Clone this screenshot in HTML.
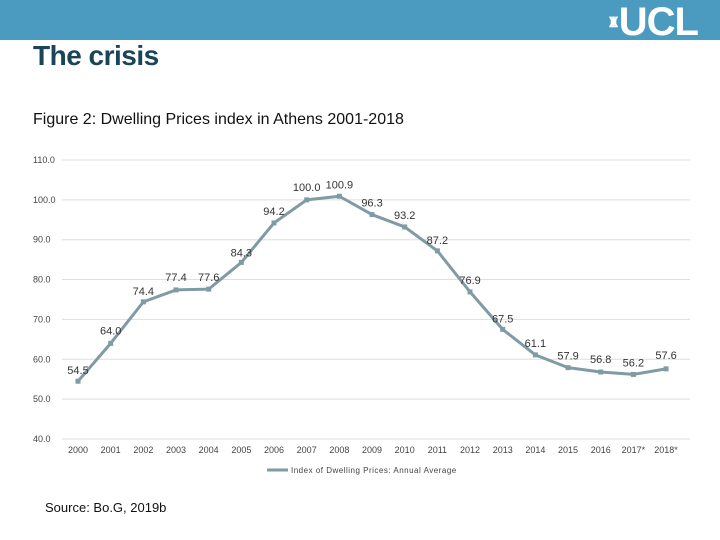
<!DOCTYPE html>
<html><head><meta charset="utf-8"><style>
body{margin:0;width:720px;height:540px;background:#fff;font-family:"Liberation Sans",sans-serif;overflow:hidden;position:relative}
#hdr{position:absolute;left:0;top:0;width:720px;height:40px;background:#4a9bbf}
#logo{position:absolute;right:22px;top:2px;color:#fff;font-weight:bold;font-size:40px;letter-spacing:-1px;line-height:40px}
#title{position:absolute;left:33px;top:40px;font-size:28px;color:#1a4458;font-weight:bold;letter-spacing:-0.5px}
#cap{position:absolute;left:33px;top:111px;font-size:16px;color:#111}
#src{position:absolute;left:45px;top:500px;font-size:13px;color:#111}
svg{position:absolute;left:0;top:0}
</style></head><body>
<div id="hdr"></div>
<div id="logo"><span style="font-size:14px;vertical-align:top">♜</span>UCL</div>
<div id="title">The crisis</div>
<div id="cap">Figure 2: Dwelling Prices index in Athens 2001-2018</div>
<div id="src">Source: Bo.G, 2019b</div>
<svg id="chart" width="720" height="540"></svg>
<script>
const categories=["2000","2001","2002","2003","2004","2005","2006","2007","2008","2009","2010","2011","2012","2013","2014","2015","2016","2017*","2018*"];
const values=[54.5,64.0,74.4,77.4,77.6,84.3,94.2,100.0,100.9,96.3,93.2,87.2,76.9,67.5,61.1,57.9,56.8,56.2,57.6];
const yTicks=[40,50,60,70,80,90,100,110];
const labelDy=[-11,-13,-11,-13,-12,-10,-12,-13,-12,-12,-12,-11,-12,-11,-12,-12,-13,-12,-14];
const NS="http://www.w3.org/2000/svg",svg=document.getElementById('chart');
const x=i=>78+i*32.67, y=v=>439-(v-40)*3.986;
function mk(t,a){const e=document.createElementNS(NS,t);for(const k in a)e.setAttribute(k,a[k]);svg.appendChild(e);return e;}
yTicks.forEach(t=>{
 const g=mk('line',{x1:62,x2:690,y1:y(t),y2:y(t),stroke:'#dedede','stroke-width':1});
 
 
 const l=mk('text',{x:33,y:y(t)+3,'font-size':9,fill:'#444'});l.textContent=t.toFixed(1);
 
 
});
categories.forEach((c,i)=>{
 const l=mk('text',{x:x(i),y:453,'font-size':9,fill:'#444','text-anchor':'middle'});l.textContent=c;
 
 
});
const pl=mk('polyline',{points:values.map((v,i)=>x(i)+','+y(v)).join(' '),fill:'none',stroke:'#7f9ba3','stroke-width':3,'stroke-linejoin':'round'});


values.forEach((v,i)=>{
 const m=mk('rect',{x:x(i)-2.5,y:y(v)-2.5,width:5,height:5,fill:'#7f9ba3'});
 
 
 const t=mk('text',{x:x(i),y:y(v)+labelDy[i]+4,'font-size':11,fill:'#333','text-anchor':'middle'});t.textContent=v.toFixed(1);
 
 
});
const ll=mk('line',{x1:267,x2:288,y1:470,y2:470,stroke:'#7f9ba3','stroke-width':3});


const lt=mk('text',{x:291,y:473,'font-size':8,fill:'#444','letter-spacing':'0.5'});lt.textContent='Index of Dwelling Prices: Annual Average';


</script>
</body></html>
